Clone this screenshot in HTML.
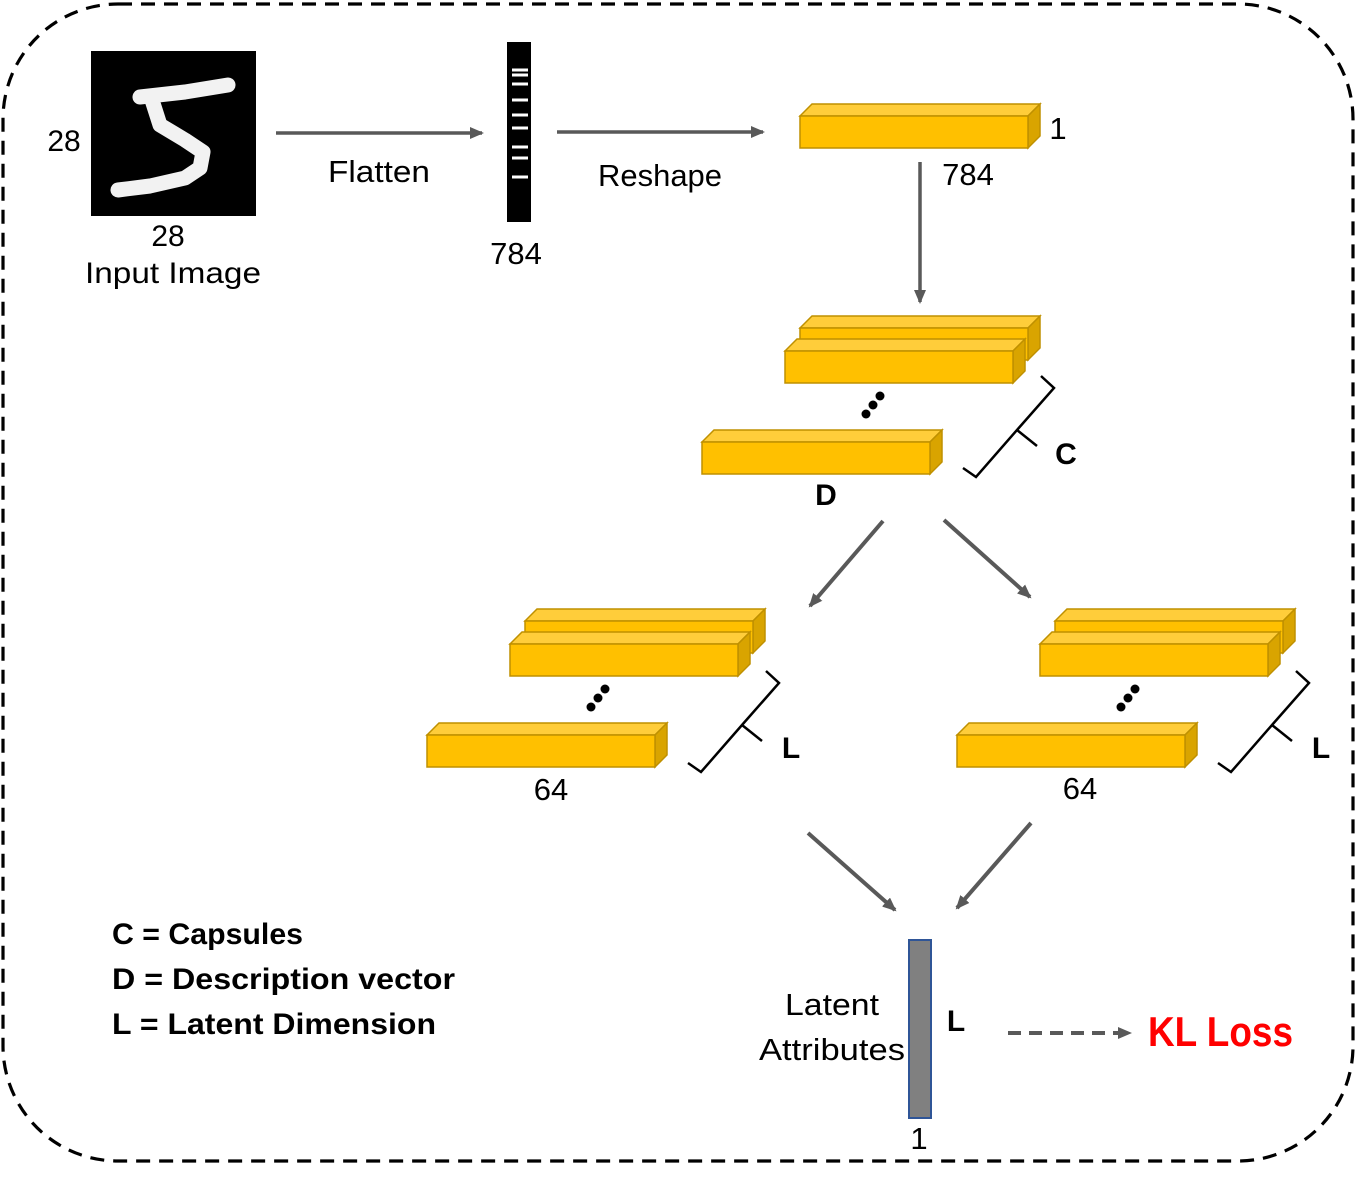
<!DOCTYPE html>
<html><head><meta charset="utf-8"><style>
html,body{margin:0;padding:0;background:#fff;}
svg{display:block;}
text{font-family:"Liberation Sans",sans-serif;fill:#000;}
</style></head><body>
<svg width="1367" height="1183" viewBox="0 0 1367 1183" xmlns="http://www.w3.org/2000/svg">
<defs>
<marker id="ah" markerWidth="14" markerHeight="12" refX="12" refY="6" orient="auto" markerUnits="userSpaceOnUse">
<path d="M0,0 L14,6 L0,12 z" fill="#595959"/></marker>
<g id="bar">
<polygon points="0,12 12,0 240,0 228,12" fill="#FFCD3A" stroke="#BF9000" stroke-width="1.5"/>
<polygon points="228,12 240,0 240,32 228,44" fill="#D9A400" stroke="#BF9000" stroke-width="1.5"/>
<rect x="0" y="12" width="228" height="32" fill="#FFC000" stroke="#BF9000" stroke-width="1.5"/>
</g>
<g id="stack">
<use href="#bar" x="98" y="0"/>
<use href="#bar" x="83" y="23"/>
<use href="#bar" x="0" y="114"/>
<circle cx="164" cy="98" r="4.5" fill="#000"/>
<circle cx="171" cy="89" r="4.5" fill="#000"/>
<circle cx="178" cy="80" r="4.5" fill="#000"/>
</g>
<path id="brace" d="M0,0 L13,9 L54,-38 L74,-22 M54,-38 L91,-80 L78,-92" fill="none" stroke="#000" stroke-width="2.5"/>
</defs>
<rect x="3" y="4" width="1350" height="1157" rx="115" ry="115" fill="none" stroke="#000" stroke-width="3.2" stroke-dasharray="14 9"/>

<rect x="91" y="51" width="165" height="165" fill="#000"/>
<path d="M140,97 L185,92 L228,85 M152,100 L160,125 L185,140 L203,152 L200,168 L185,178 L150,186 L118,190" fill="none" stroke="#f2f2f2" stroke-width="15" stroke-linejoin="round" stroke-linecap="round"/>
<text x="64" y="151" font-size="30" text-anchor="middle">28</text>
<text x="168" y="246" font-size="30" text-anchor="middle">28</text>
<text x="173" y="283" font-size="30" text-anchor="middle" textLength="176" lengthAdjust="spacingAndGlyphs">Input Image</text>

<line x1="276" y1="133" x2="482" y2="133" stroke="#595959" stroke-width="3.5" marker-end="url(#ah)"/>
<text x="379" y="182" font-size="31" text-anchor="middle" textLength="102" lengthAdjust="spacingAndGlyphs">Flatten</text>

<rect x="507" y="42" width="24" height="180" fill="#000"/>
<g stroke="#fff" stroke-width="3">
<line x1="512" y1="70" x2="528" y2="70"/><line x1="512" y1="75" x2="528" y2="75"/>
<line x1="512" y1="84" x2="528" y2="84"/><line x1="512" y1="100" x2="528" y2="100"/>
<line x1="512" y1="115" x2="528" y2="115"/><line x1="512" y1="128" x2="528" y2="128"/>
<line x1="512" y1="147" x2="528" y2="147"/><line x1="512" y1="158" x2="528" y2="158"/>
<line x1="512" y1="177" x2="528" y2="177"/>
</g>
<text x="516" y="264" font-size="31" text-anchor="middle">784</text>

<line x1="557" y1="132" x2="763" y2="132" stroke="#595959" stroke-width="3.5" marker-end="url(#ah)"/>
<text x="660" y="186" font-size="31" text-anchor="middle" textLength="124" lengthAdjust="spacingAndGlyphs">Reshape</text>

<use href="#bar" x="800" y="104"/>
<text x="1058" y="139" font-size="31" text-anchor="middle">1</text>
<text x="968" y="185" font-size="31" text-anchor="middle">784</text>
<line x1="920" y1="162" x2="920" y2="302" stroke="#595959" stroke-width="3.5" marker-end="url(#ah)"/>

<use href="#stack" x="702" y="316"/>
<use href="#brace" x="963" y="468"/>
<text x="1066" y="464" font-size="30" font-weight="bold" text-anchor="middle">C</text>
<text x="826" y="505" font-size="30" font-weight="bold" text-anchor="middle">D</text>

<line x1="883" y1="521" x2="810" y2="606" stroke="#595959" stroke-width="4" marker-end="url(#ah)"/>
<line x1="944" y1="520" x2="1030" y2="597" stroke="#595959" stroke-width="4" marker-end="url(#ah)"/>

<use href="#stack" x="427" y="609"/>
<use href="#brace" x="688" y="763"/>
<text x="791" y="758" font-size="30" font-weight="bold" text-anchor="middle">L</text>
<text x="551" y="800" font-size="31" text-anchor="middle">64</text>

<use href="#stack" x="957" y="609"/>
<use href="#brace" x="1218" y="763"/>
<text x="1321" y="758" font-size="30" font-weight="bold" text-anchor="middle">L</text>
<text x="1080" y="799" font-size="31" text-anchor="middle">64</text>

<line x1="808" y1="833" x2="895" y2="910" stroke="#595959" stroke-width="4" marker-end="url(#ah)"/>
<line x1="1031" y1="823" x2="957" y2="908" stroke="#595959" stroke-width="4" marker-end="url(#ah)"/>

<rect x="909" y="940" width="22" height="178" fill="#808080" stroke="#2F5597" stroke-width="2"/>
<text x="832" y="1015" font-size="31" text-anchor="middle" textLength="94" lengthAdjust="spacingAndGlyphs">Latent</text>
<text x="832" y="1060" font-size="31" text-anchor="middle" textLength="146" lengthAdjust="spacingAndGlyphs">Attributes</text>
<text x="956" y="1031" font-size="30" font-weight="bold" text-anchor="middle">L</text>
<text x="919" y="1149" font-size="31" text-anchor="middle">1</text>

<line x1="1008" y1="1033" x2="1130" y2="1033" stroke="#595959" stroke-width="4" stroke-dasharray="13 8" marker-end="url(#ah)"/>
<text x="1148" y="1046" font-size="42" font-weight="bold" style="fill:#FF0000" textLength="145" lengthAdjust="spacingAndGlyphs">KL Loss</text>

<text x="112" y="944" font-size="30" font-weight="bold" textLength="191" lengthAdjust="spacingAndGlyphs">C = Capsules</text>
<text x="112" y="989" font-size="30" font-weight="bold" textLength="343" lengthAdjust="spacingAndGlyphs">D = Description vector</text>
<text x="112" y="1034" font-size="30" font-weight="bold" textLength="324" lengthAdjust="spacingAndGlyphs">L = Latent Dimension</text>
</svg>
</body></html>
